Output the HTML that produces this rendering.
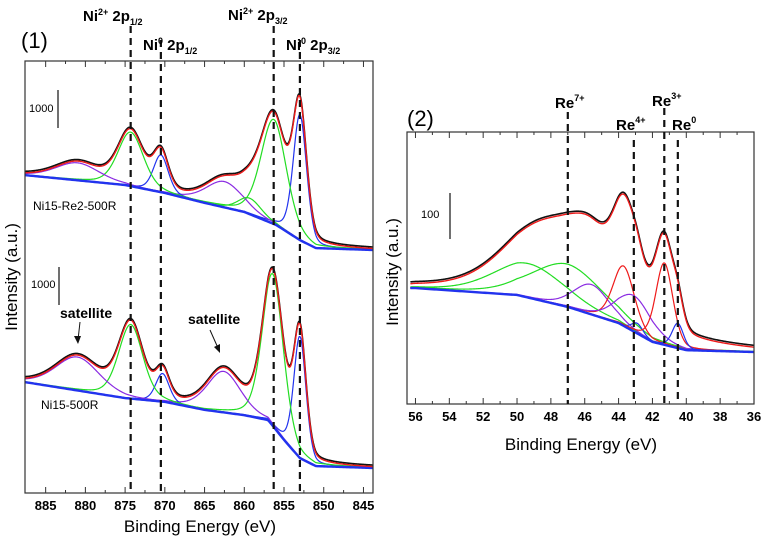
<!DOCTYPE html>
<html><head><meta charset="utf-8">
<style>
html,body{margin:0;padding:0;background:#fff;}
svg{display:block;font-family:"Liberation Sans",Arial,sans-serif;}
.tk{font-weight:bold;font-size:13px;}
.lb{font-weight:bold;font-size:15px;}
</style></head>
<body>
<svg id="chart" width="763" height="541" viewBox="0 0 763 541">
<g id="p1"></g>
<g id="p2"></g>
</svg>
<script>
// ---------- Panel 1 data (Ni 2p) ----------
const p1TickLabels = [885,880,875,870,865,860,855,850,845];
const p1DashE = [874.3,870.5,856.3,853.0];
const topBgE = [887.6,875,870,865,860,856,853,851,843.8];
const topBgV = [1970,1710,1500,1240,1000,660,260,50,0];
const topPeakC = [853.0,856.3,862.5,870.5,874.3,881.0,859.3];
const topPeakH = [3300,2750,680,980,1420,460,420];
const topPeakW = [2.0,3.8,5.5,2.2,3.8,6.5,3.5];
const topPeakCol = ['blue','green','purple','blue','green','purple','green'];
const botBgE = [887.6,875,870,865,860,857,855,853,851,843.8];
const botBgV = [2260,1840,1740,1530,1390,1260,740,260,50,0];
const botPeakC = [853.0,856.4,862.6,870.3,874.3,881.0];
const botPeakH = [3200,4000,1080,740,1950,880];
const botPeakW = [1.8,3.1,5.0,2.0,3.6,6.5];
const botPeakCol = ['blue','green','purple','blue','green','purple'];
const topOffset = 6395, botOffset = 658;
// ---------- Panel 2 data (Re 4f) ----------
const p2TickLabels = [56,54,52,50,48,46,44,42,40,38,36];
const p2DashE = [47.0,43.1,41.3,40.5];
const reBgE = [56.5,56,50,47,44,42,40,36];
const reBgV = [139,139,124,98,63,22,4,0];
const rePeakC = [49.3,47.0,45.6,43.7,43.1,42.9,41.3,40.5];
const rePeakH = [74,93,65,130,78,22,178,54];
const rePeakW = [5,5,2.5,1.5,2.5,0.8,1.2,0.8];
const rePeakCol = ['green','green','purple','red','purple','blue','red','blue'];
const reExtraC = [45.5], reExtraH = [38], reExtraW = [11];
const reOffset = 113;

const COL = {red:'#ee1a1a',green:'#22dd22',blue:'#2233ee',purple:'#8a2be2'};
const NS='http://www.w3.org/2000/svg';
function mk(parent,tag,attrs){const e=document.createElementNS(NS,tag);for(const k in attrs)e.setAttribute(k,attrs[k]);parent.appendChild(e);return e;}
function interp(E,xs,vs){for(let i=0;i<xs.length-1;i++){const a=xs[i],b=xs[i+1];if((E<=a&&E>=b)||(E>=a&&E<=b)){const t=(E-a)/(b-a);return vs[i]+t*(vs[i+1]-vs[i]);}}return E>xs[0]?vs[0]:vs[vs.length-1];}
function pv(E,c,h,w){const d=(E-c)/w;return h*(0.3/(1+4*d*d)+0.7*Math.exp(-4*Math.LN2*d*d));}
function pathOf(fn,e0,e1,n,X,Y){let s='';for(let i=0;i<=n;i++){const E=e0+(e1-e0)*i/n;s+=(i?'L':'M')+X(E).toFixed(2)+','+Y(fn(E)).toFixed(2);}return s;}

function drawSpectrum(g,X,Y,e0,e1,bgE,bgV,C,H,W,cols,off,exC,exH,exW,nm){
  const bg=E=>off+interp(E,bgE,bgV);
  const env=E=>{let v=bg(E);for(let i=0;i<C.length;i++)v+=pv(E,C[i],H[i],W[i]);if(exC)for(let i=0;i<exC.length;i++)v+=pv(E,exC[i],exH[i],exW[i]);return v;};
  const data=mk(g,'path',{d:pathOf(E=>env(E)+(exC?4:40),e0,e1,600,X,Y),fill:'none',stroke:'#111','stroke-width':1.6});
  
  
  for(let i=0;i<C.length;i++){
    const p=mk(g,'path',{d:pathOf(E=>bg(E)+pv(E,C[i],H[i],W[i]),e0,e1,500,X,Y),fill:'none',stroke:COL[cols[i]],'stroke-width':1.2});
    
    
  }
  const b=mk(g,'path',{d:pathOf(bg,e0,e1,200,X,Y),fill:'none',stroke:COL.blue,'stroke-width':2.4});
  
  
  const r=mk(g,'path',{d:pathOf(env,e0,e1,600,X,Y),fill:'none',stroke:COL.red,'stroke-width':1.4});
  
  
}
function txt(g,x,y,s,attrs,name){const t=mk(g,'text',Object.assign({x:x,y:y},attrs||{}));t.innerHTML=s;return t;}

// ---------- Panel 1 ----------
(function(){
  const g=document.getElementById('p1');
  const L=25,R=373,T=61,B=493, e0=887.6,e1=843.8;
  const X=E=>L+(e0-E)/(e0-e1)*(R-L);
  const Y=c=>493-c*0.038;
  const clip=mk(g,'clipPath',{id:'c1'});mk(clip,'rect',{x:L,y:T,width:R-L,height:B-T});
  const inner=mk(g,'g',{'clip-path':'url(#c1)'});
  drawSpectrum(inner,X,Y,e0,e1,topBgE,topBgV,topPeakC,topPeakH,topPeakW,topPeakCol,topOffset,null,null,null,'ni15-re2');
  drawSpectrum(inner,X,Y,e0,e1,botBgE,botBgV,botPeakC,botPeakH,botPeakW,botPeakCol,botOffset,null,null,null,'ni15');
  const f=mk(g,'rect',{x:L,y:T,width:R-L,height:B-T,fill:'none',stroke:'#333','stroke-width':1.2});
  
  for(let E=885;E>=845;E-=2.5){const maj=(E%5===0),x=X(E),l=maj?6:3;
    mk(g,'line',{x1:x,y1:B,x2:x,y2:B-l,stroke:'#333'});mk(g,'line',{x1:x,y1:T,x2:x,y2:T+l,stroke:'#333'});}
  p1TickLabels.forEach(v=>txt(g,X(v),510,v,{'text-anchor':'middle',class:'tk'},'x-tick-'+v));
  p1DashE.forEach((E,i)=>{const l=mk(g,'line',{x1:X(E),y1:i%2?40:26,x2:X(E),y2:B,stroke:'#111','stroke-width':2.2,'stroke-dasharray':'7,5'});
    });
  txt(g,83,21,'Ni<tspan dy="-6" font-size="9">2+</tspan><tspan dy="6"> 2p</tspan><tspan dy="4" font-size="9">1/2</tspan>',{class:'lb'},'ni2-2p12-label');
  txt(g,143,50,'Ni<tspan dy="-6" font-size="9">0</tspan><tspan dy="6"> 2p</tspan><tspan dy="4" font-size="9">1/2</tspan>',{class:'lb'},'ni0-2p12-label');
  txt(g,228,20,'Ni<tspan dy="-6" font-size="9">2+</tspan><tspan dy="6"> 2p</tspan><tspan dy="4" font-size="9">3/2</tspan>',{class:'lb'},'ni2-2p32-label');
  txt(g,286,50,'Ni<tspan dy="-6" font-size="9">0</tspan><tspan dy="6"> 2p</tspan><tspan dy="4" font-size="9">3/2</tspan>',{class:'lb'},'ni0-2p32-label');
  txt(g,21,48,'(1)',{'font-size':22},'panel-1-label');
  txt(g,29,112,'1000',{'font-size':11},'scale-label-top');
  mk(g,'line',{x1:58,y1:90,x2:58,y2:128,stroke:'#222','stroke-width':1.3});
  txt(g,31,288,'1000',{'font-size':11},'scale-label-bottom');
  mk(g,'line',{x1:59,y1:267,x2:59,y2:305,stroke:'#222','stroke-width':1.3});
  txt(g,33,210,'Ni15-Re2-500R',{'font-size':12},'sample-label-ni15-re2');
  txt(g,41,409,'Ni15-500R',{'font-size':12},'sample-label-ni15');
  txt(g,60,318,'satellite',{'font-size':14,'font-weight':'bold'},'satellite-label-1');
  txt(g,188,324,'satellite',{'font-size':14,'font-weight':'bold'},'satellite-label-2');
  mk(g,'line',{x1:80,y1:322,x2:78,y2:340,stroke:'#111'});mk(g,'path',{d:'M74,336 L78,344 L81,336Z',fill:'#111'});
  mk(g,'line',{x1:210,y1:330,x2:218,y2:348,stroke:'#111'});mk(g,'path',{d:'M214,347 L220,353 L220,344Z',fill:'#111'});
  txt(g,200,532,'Binding Energy (eV)',{'text-anchor':'middle','font-size':17},'x-axis-title-1');
  txt(g,0,0,'Intensity (a.u.)',{'text-anchor':'middle','font-size':17,transform:'translate(17,277) rotate(-90)'},'y-axis-title-1');
})();

// ---------- Panel 2 ----------
(function(){
  const g=document.getElementById('p2');
  const L=407,R=754,T=132,B=404,e0=56.5,e1=36;
  const X=E=>L+(e0-E)/(e0-e1)*(R-L);
  const Y=c=>404-c*0.46;
  const clip=mk(g,'clipPath',{id:'c2'});mk(clip,'rect',{x:L,y:T,width:R-L,height:B-T});
  const inner=mk(g,'g',{'clip-path':'url(#c2)'});
  drawSpectrum(inner,X,Y,56.3,e1,reBgE,reBgV,rePeakC,rePeakH,rePeakW,rePeakCol,reOffset,reExtraC,reExtraH,reExtraW,'re');
  const f=mk(g,'rect',{x:L,y:T,width:R-L,height:B-T,fill:'none',stroke:'#333','stroke-width':1.2});
  
  for(let E=56;E>=36;E-=1){const maj=(E%2===0),x=X(E),l=maj?6:3;
    mk(g,'line',{x1:x,y1:B,x2:x,y2:B-l,stroke:'#333'});mk(g,'line',{x1:x,y1:T,x2:x,y2:T+l,stroke:'#333'});}
  p2TickLabels.forEach(v=>txt(g,X(v),421,v,{'text-anchor':'middle',class:'tk'},'x2-tick-'+v));
  const tops=[112,140,108,140];
  p2DashE.forEach((E,i)=>{const l=mk(g,'line',{x1:X(E),y1:tops[i],x2:X(E),y2:B,stroke:'#111','stroke-width':2.2,'stroke-dasharray':'7,5'});
    });
  txt(g,555,108,'Re<tspan dy="-7" font-size="9">7+</tspan>',{class:'lb'},'re7-label');
  txt(g,616,130,'Re<tspan dy="-7" font-size="9">4+</tspan>',{class:'lb'},'re4-label');
  txt(g,652,106,'Re<tspan dy="-7" font-size="9">3+</tspan>',{class:'lb'},'re3-label');
  txt(g,672,130,'Re<tspan dy="-7" font-size="9">0</tspan>',{class:'lb'},'re0-label');
  txt(g,407,126,'(2)',{'font-size':22},'panel-2-label');
  txt(g,421,218,'100',{'font-size':11},'scale-label-re');
  mk(g,'line',{x1:450,y1:193,x2:450,y2:239,stroke:'#222','stroke-width':1.3});
  txt(g,581,450,'Binding Energy (eV)',{'text-anchor':'middle','font-size':17},'x-axis-title-2');
  txt(g,0,0,'Intensity (a.u.)',{'text-anchor':'middle','font-size':17,transform:'translate(398,272) rotate(-90)'},'y-axis-title-2');
})();
</script>
</body></html>
